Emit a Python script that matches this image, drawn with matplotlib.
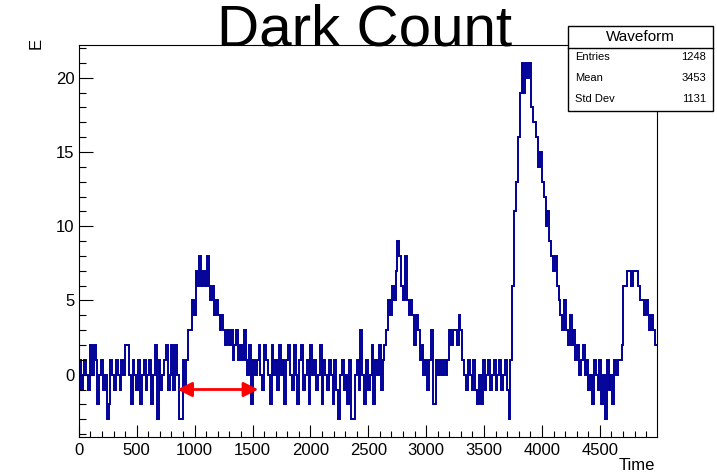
import numpy as np
import matplotlib
matplotlib.use("Agg")
import matplotlib.pyplot as plt
from matplotlib.ticker import MultipleLocator

plt.rcParams["font.family"] = ["Liberation Sans", "DejaVu Sans"]

# waveform, bins of 16 time units
bin_width = 16
baseline_a = [1, -1, 0, 1, 0, -1, 2, 0, 2, 1,
              -2, 0, 1, -1, 0, -3, -2, 1, 0, -1,
              1, 0, -1, 1, 0, 2, 2, 0, -2, 1,
              0, -1, 1, -2, 0, 1, -1, 0, 1, -2,
              0, 2, -3, 1, -1, 0, 1, 2, -1, 0,
              2, -1, 2, 0, -3, -3, 1, -1]
peak_1 = [1, 3, 3, 5, 4, 7, 6, 8, 6, 7,
          6, 8, 6, 5, 6, 4, 5, 4, 3, 4,
          3, 2, 3, 2, 3, 1, 2, 3, 1, 2,
          1, 3, 1, 0, 2, -2, 1, 0]
baseline_b = [1, 2, 0, -1, 2, 1, 0, -2, 2, 0,
              1, -1, 2, 0, 1, -2, 1, 2, 0, -1,
              2, 0, -2, 1, 2, -1, 0, 1, -2, 2,
              0, 1, -1, 0, 2, -2, 1, 0, -1, 1,
              0, -2, 1, -1, -3, 0, 1, -1, 0, -2,
              1, -3, -3, 0, 1, -1, 3, 0, -2, 1,
              -1, 0, 2, -2, 1, 0, 2, -1, 1]
peak_2 = [2, 3, 5, 4, 6, 5, 7, 9, 8, 6,
          5, 8, 5, 4, 5, 4, 2, 4, 3]
baseline_c = [1, 2, 0, 1, -1, 1, 3, -2, -2, 1,
              0, 1, 0, 1, 0, 1, 3, 2, 3, 3,
              2, 4, 3, 1, 0, -1, 1, 0, -1, 1,
              -1, -2, 0, -2, 1, -1, 0, 1, -1, 0,
              1, -1, 0, 1, -1, 0, 1, -1, -3, 1]
peak_3 = [6, 11, 13, 16, 19, 21, 19, 21, 20, 21,
          18, 17, 17, 16, 14, 15, 13, 12, 10, 11,
          9, 8, 7, 8, 6, 5, 4, 3, 5, 3]
baseline_d = [2, 4, 2, 3, 1, 2, 0, 1, 2, 0,
              1, -1, 0, -2, 1, 0, -1, 1, -2, 0,
              -3, 1, -1, 0, -2, 1, 0, 1, 1]
peak_4 = [2, 6, 6, 7, 7, 6, 7, 7, 7, 6,
          5, 5, 4, 5, 4, 3, 4, 3, 2]

values = np.array(baseline_a + peak_1 + baseline_b + peak_2 +
                  baseline_c + peak_3 + baseline_d + peak_4, dtype=float)
edges = np.arange(len(values) + 1) * bin_width

# stats box text
stats_title = "Waveform"
stats_rows = [("Entries", "1248"), ("Mean", "3453"), ("Std Dev", "1131")]

# marked interval
arrow_start, arrow_end, arrow_y = 850, 1550, -1

fig = plt.figure(figsize=(7.17, 4.75), dpi=100)
ax = fig.add_axes([0.110, 0.080, 0.806, 0.825])

ax.stairs(values, edges, baseline=None, color="#000099", linewidth=1.4)

ax.annotate("", xy=(arrow_start, arrow_y), xytext=(arrow_end, arrow_y),
            arrowprops=dict(arrowstyle="<|-|>", color="red", lw=2,
                            mutation_scale=22, shrinkA=0, shrinkB=0))

ax.set_xlim(0, edges[-1])
ax.set_ylim(-4.2, 22.2)

ax.xaxis.set_major_locator(MultipleLocator(500))
ax.xaxis.set_minor_locator(MultipleLocator(100))
ax.yaxis.set_major_locator(MultipleLocator(5))
ax.yaxis.set_minor_locator(MultipleLocator(1))
ax.xaxis.set_major_formatter(lambda v, p: "" if v > 4600 else f"{v:.0f}")

ax.tick_params(axis="both", which="both", direction="in", top=False, right=False,
               labelsize=12, width=0.8)
ax.tick_params(axis="x", which="major", length=8.5, pad=4)
ax.tick_params(axis="x", which="minor", length=4.3)
ax.tick_params(axis="y", which="major", length=10, pad=3)
ax.tick_params(axis="y", which="minor", length=5)
for s in ax.spines.values():
    s.set_linewidth(0.8)

fig.text(0.508, 0.935, "Dark Count", fontsize=42, ha="center", va="center")
fig.text(655 / 717, 1 - 466 / 475, "Time", fontsize=12, ha="right", va="center")
fig.text(36 / 717, 1 - 38 / 475, "E", fontsize=12, rotation=90, ha="center", va="top")

# stats box
bx0, bx1 = 568 / 717, 713 / 717
by0, by1 = 1 - 111 / 475, 1 - 26 / 475
hline = 1 - 48 / 475
box = plt.Rectangle((bx0, by0), bx1 - bx0, by1 - by0, transform=fig.transFigure,
                    facecolor="white", edgecolor="black", linewidth=1, zorder=5)
fig.patches.append(box)
fig.add_artist(plt.Line2D([bx0, bx1], [hline, hline], transform=fig.transFigure,
                          color="black", linewidth=1, zorder=6))
fig.text((bx0 + bx1) / 2, 1 - 37 / 475, stats_title, fontsize=11,
         ha="center", va="center", zorder=7)
for k, (name, val) in enumerate(stats_rows):
    yy = 1 - (57 + 21 * k) / 475
    fig.text(575 / 717, yy, name, fontsize=8, ha="left", va="center", zorder=7)
    fig.text(706 / 717, yy, val, fontsize=8, ha="right", va="center", zorder=7)

fig.savefig("out.png", dpi=100)
